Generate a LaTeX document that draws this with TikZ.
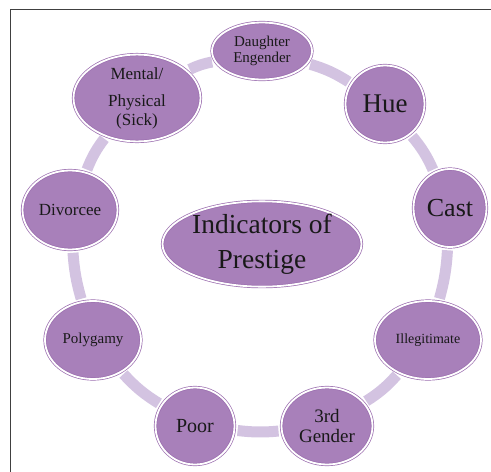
\documentclass[tikz,border=0pt]{standalone}
\usepackage{fontspec}
\setmainfont{Liberation Serif}
\usetikzlibrary{shapes.geometric}
\definecolor{beadfill}{RGB}{168,128,186}
\definecolor{beadline}{RGB}{155,110,175}
\definecolor{linkfill}{RGB}{211,195,225}
\definecolor{frameline}{RGB}{64,64,64}
\tikzstyle{bead} = [ellipse, fill=beadfill, draw=beadline, double=white,
                    double distance=1.8pt, line width=0.7pt, inner sep=0pt,
                    align=center, text=black!90]
\tikzstyle{link} = [draw=linkfill, line width=11pt, shorten >=3pt, shorten <=3pt]
\newcommand{\fsz}[2]{\fontsize{#1}{#2}\selectfont}
\newcommand{\bead}[4][]{\node [bead, #1] (#2) at #3 {#4};}

\begin{document}
\begin{tikzpicture}[x=1pt, y=-1pt]
  \useasboundingbox (0,0) rectangle (491,472);
  \draw [frameline, line width=1.2pt] (10.5,472) -- (10.5,9.5) -- (491,9.5);

  \bead[minimum width=100pt, minimum height=57pt, font=\fsz{15}{16}]
    {dau} {(262,51)} {Daughter\\Engender}
  \bead[minimum width=79pt, minimum height=77pt, font=\fsz{27}{30}]
    {hue} {(385,104)} {Hue}
  \bead[minimum width=73pt, minimum height=78pt, font=\fsz{26}{30}]
    {cast} {(450,208)} {Cast}
  \bead[minimum width=106pt, minimum height=78pt, font=\fsz{14}{16}]
    {ill} {(428,340)} {Illegitimate}
  \bead[minimum width=91pt, minimum height=77pt, font=\fsz{19}{20}]
    {gen} {(327,426)} {3rd\\Gender}
  \bead[minimum width=79pt, minimum height=77pt, font=\fsz{20}{22}]
    {poor} {(195,426)} {Poor}
  \bead[minimum width=96pt, minimum height=78pt, font=\fsz{15}{17}]
    {pol} {(93,340)} {Polygamy}
  \bead[minimum width=95pt, minimum height=79pt, font=\fsz{17}{19}]
    {div} {(70,210)} {Divorcee}
  \bead[minimum width=127pt, minimum height=76pt, font=\fsz{17}{19}]
    {ment} {(137,98)} {Mental/\\[8pt]Physical\\(Sick)}
  \bead[minimum width=199pt, minimum height=84pt, font=\fsz{27.5}{35}]
    {ind} {(262,244)} {Indicators of\\Prestige}

  % ring of links
  \draw [link] (dau) to[bend left=8] (hue);
  \draw [link] (hue) to[bend left=8] (cast);
  \draw [link] (cast) to[bend left=6] (ill);
  \draw [link] (ill) to[bend left=8] (gen);
  \draw [link] (gen) to[bend left=6] (poor);
  \draw [link] (poor) to[bend left=8] (pol);
  \draw [link] (pol) to[bend left=6] (div);
  \draw [link] (div) to[bend left=8] (ment);
  \draw [link] (ment) to[bend left=8] (dau);
\end{tikzpicture}
\end{document}
